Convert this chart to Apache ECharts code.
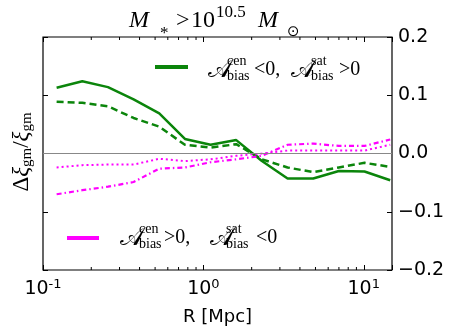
<!DOCTYPE html>
<html>
<head>
<meta charset="utf-8">
<script src="https://cdn.jsdelivr.net/npm/echarts@6/dist/echarts.min.js"></script>
<style>
html, body { margin: 0; padding: 0; background: #fff; }
#chart { width: 452px; height: 331px; }
</style>
</head>
<body>
<div id="chart"></div>
<script>
// radii R [Mpc], log spaced bins
var radius = [0.1216, 0.1758, 0.2541, 0.3672, 0.5308, 0.7672, 1.109, 1.603, 2.317, 3.349, 4.841, 6.997, 10.11, 14.62];
// A_bias^cen < 0, A_bias^sat > 0 (green)
var cenNegSolid  = [0.113, 0.124, 0.114, 0.093, 0.069, 0.025, 0.015, 0.023, -0.013, -0.043, -0.043, -0.030, -0.031, -0.046];
var cenNegDashed = [0.089, 0.087, 0.081, 0.061, 0.046, 0.015, 0.010, 0.016, -0.010, -0.024, -0.032, -0.024, -0.016, -0.023];
// A_bias^cen > 0, A_bias^sat < 0 (magenta)
var cenPosDotted  = [-0.024, -0.020, -0.019, -0.019, -0.009, -0.013, -0.010, -0.004, 0.000, 0.005, 0.005, 0.005, 0.005, 0.015];
var cenPosDashDot = [-0.070, -0.063, -0.057, -0.049, -0.026, -0.024, -0.015, -0.010, -0.004, 0.015, 0.017, 0.013, 0.013, 0.024];
// x minor ticks (log axis)
var xMinor = [0.2, 0.3, 0.4, 0.5, 0.6, 0.7, 0.8, 0.9, 2, 3, 4, 5, 6, 7, 8, 9];

var SERIF = 'Liberation Serif, DejaVu Serif, serif';
var SANS = 'DejaVu Sans, sans-serif';
var SCRIPT_A = '\uD835\uDC9C';

function pairs(ys) {
  return radius.map(function (r, i) { return [r, ys[i]]; });
}

function line(name, ys, color, width, dash) {
  return {
    name: name,
    type: 'line',
    data: pairs(ys),
    showSymbol: false,
    symbol: 'none',
    lineStyle: { color: color, width: width, type: dash },
    itemStyle: { color: color },
    z: 3
  };
}

var chart = echarts.init(document.getElementById('chart'));

var series = [
  line('cenNeg', cenNegSolid, '#0b850b', 2.5, 'solid'),
  line('cenNegDash', cenNegDashed, '#0b850b', 2.5, [7, 4]),
  line('cenPos', cenPosDotted, '#ff00ff', 2, [2, 3]),
  line('cenPosDashDot', cenPosDashDot, '#ff00ff', 2.2, [5, 3, 1.5, 3])
];
series[0].markLine = {
  silent: true,
  symbol: 'none',
  label: { show: false },
  lineStyle: { color: '#888', width: 1, type: 'solid' },
  data: [{ yAxis: 0 }]
};
series.push({
  type: 'custom',
  silent: true,
  data: xMinor.map(function (v) { return [v, 0]; }),
  renderItem: function (params, api) {
    var x = api.coord([api.value(0), 0])[0];
    var top = params.coordSys.y;
    var bot = params.coordSys.y + params.coordSys.height;
    var st = { stroke: '#000', lineWidth: 1 };
    return {
      type: 'group',
      children: [
        { type: 'line', shape: { x1: x, y1: bot, x2: x, y2: bot - 3 }, style: st },
        { type: 'line', shape: { x1: x, y1: top, x2: x, y2: top + 3 }, style: st }
      ]
    };
  },
  clip: false,
  z: 4
});

function txt(x, y, s, size, italic, family) {
  return {
    type: 'text', x: x, y: y, silent: true,
    style: {
      text: s, fill: '#000', fontSize: size,
      fontStyle: italic ? 'italic' : 'normal',
      fontWeight: 'normal',
      fontFamily: family || SERIF,
      verticalAlign: 'middle', align: 'left'
    }
  };
}

function legendLabel(x0, yc, s1, op1, s2, op2, xs) {
  return [
    txt(x0, yc, SCRIPT_A, 25, false),
    txt(xs[0], yc - 9, s1, 14, false),
    txt(xs[0], yc + 6, 'bias', 14, false),
    txt(xs[1], yc, op1, 20, false),
    txt(xs[2], yc, SCRIPT_A, 25, false),
    txt(xs[3], yc - 9, s2, 14, false),
    txt(xs[3], yc + 6, 'bias', 14, false),
    txt(xs[4], yc, op2, 20, false)
  ];
}

var graphics = []
  .concat(legendLabel(208, 70, 'cen', '<0,', 'sat', '>0', [227, 254, 291, 311, 339]))
  .concat(legendLabel(120, 238, 'cen', '>0,', 'sat', '<0', [139, 164, 210, 226, 256]));

// title: M_* > 10^10.5 M_sun
graphics.push(
  txt(129, 21, 'M', 24, true),
  txt(160, 34, '*', 17, false),
  txt(176, 21, '>', 24, false),
  txt(191, 21, '10', 24, false),
  txt(216, 13, '10.5', 17, false),
  txt(258, 21, 'M', 24, true),
  txt(287, 32, '\u2299', 15, false, SANS)
);

graphics.push({
  type: 'text', x: 22, y: 152, rotation: Math.PI / 2, silent: true,
  style: {
    text: '{r|\u0394}{i|\u03BE}{s|gm}{r|/}{i|\u03BE}{s|gm}',
    align: 'center', verticalAlign: 'middle',
    rich: {
      r: { fontSize: 23, fontFamily: SERIF, fill: '#000' },
      i: { fontSize: 23, fontFamily: SERIF, fontStyle: 'italic', fill: '#000' },
      s: { fontSize: 15, fontFamily: SERIF, fill: '#000', verticalAlign: 'bottom', padding: [10, 0, 0, 0] }
    }
  }
});

var option = {
  animation: false,
  backgroundColor: '#fff',
  legend: [{
    data: [{ name: 'cenNeg', icon: 'rect' }],
    left: 155, top: 65, padding: 0,
    itemWidth: 33, itemHeight: 4,
    formatter: function () { return ''; },
    itemStyle: { borderWidth: 0 },
    selectedMode: false
  }, {
    data: [{ name: 'cenPos', icon: 'rect' }],
    left: 67, top: 236, padding: 0,
    itemWidth: 32, itemHeight: 4,
    formatter: function () { return ''; },
    itemStyle: { borderWidth: 0 },
    selectedMode: false
  }],
  grid: {
    left: 43, right: 60, top: 37, bottom: 61,
    show: true, borderColor: '#000', borderWidth: 1.2, backgroundColor: 'transparent'
  },
  xAxis: [{
    type: 'log', logBase: 10, min: 0.1, max: 15,
    position: 'bottom',
    axisLine: { show: false, onZero: false },
    splitLine: { show: false },
    axisTick: { show: true, inside: true, length: 5, lineStyle: { color: '#000' } },
    axisLabel: {
      margin: 8,
      formatter: function (v) {
        var e = Math.round(Math.log(v) / Math.LN10);
        if (Math.abs(v / Math.pow(10, e) - 1) > 1e-6) return '';
        return '{b|10}{p|' + e + '}';
      },
      rich: {
        b: { fontSize: 19, fontFamily: SANS, color: '#000' },
        p: { fontSize: 13, fontFamily: SANS, color: '#000', verticalAlign: 'top', padding: [0, 0, 9, 0] }
      }
    },
    name: 'R [Mpc]', nameLocation: 'middle', nameGap: 38,
    nameTextStyle: { fontSize: 18, fontFamily: SANS, color: '#000' }
  }, {
    type: 'log', logBase: 10, min: 0.1, max: 15,
    position: 'top',
    axisLine: { show: false, onZero: false },
    splitLine: { show: false },
    axisTick: { show: true, inside: true, length: 5, lineStyle: { color: '#000' } },
    axisLabel: { show: false }
  }],
  yAxis: [{
    type: 'value', min: -0.2, max: 0.2, interval: 0.1,
    position: 'right',
    axisLine: { show: false, onZero: false },
    splitLine: { show: false },
    axisTick: { show: true, inside: true, length: 5, lineStyle: { color: '#000' } },
    axisLabel: {
      margin: 6, fontSize: 19, fontFamily: SANS, color: '#000',
      formatter: function (v) {
        var s = Math.abs(v).toFixed(1);
        return v < -1e-9 ? '\u2212' + s : s;
      }
    }
  }, {
    type: 'value', min: -0.2, max: 0.2, interval: 0.1,
    position: 'left',
    axisLine: { show: false, onZero: false },
    splitLine: { show: false },
    axisTick: { show: true, inside: true, length: 5, lineStyle: { color: '#000' } },
    axisLabel: { show: false }
  }],
  graphic: graphics,
  series: series
};

chart.setOption(option);
</script>
</body>
</html>
